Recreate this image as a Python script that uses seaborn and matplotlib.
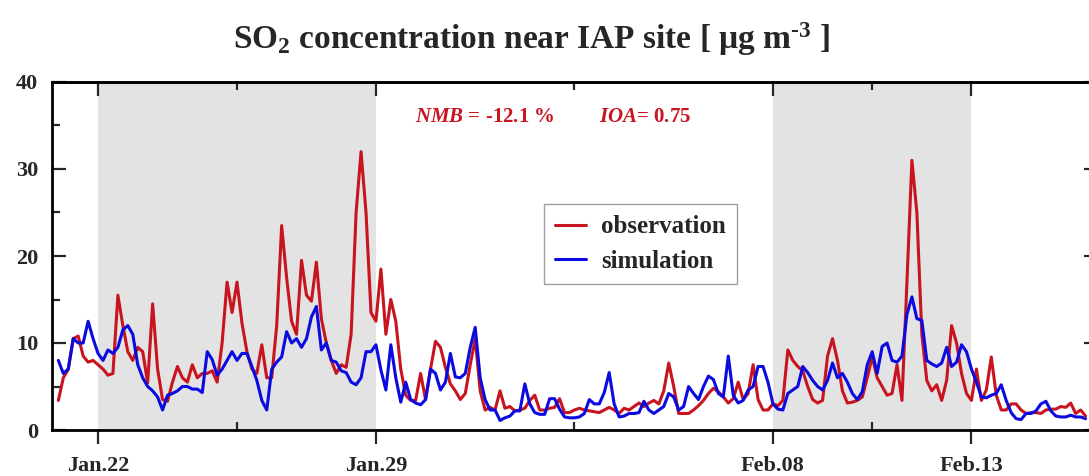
import matplotlib
matplotlib.use("Agg")
from matplotlib import pyplot as plt
import pandas as pd
import seaborn as sns

# 3-hourly SO2 values (00,03,06,09,12,15,18,21 h), one row per day, Jan.21 - Feb.15
observation = [
    3.4, 6.0, 7.0, 10.5, 10.8, 8.5, 7.8, 8.0,      # Jan21
    7.5, 7.0, 6.3, 6.5, 15.5, 12.0, 9.0, 8.0,      # Jan22
    9.5, 9.0, 5.4, 14.5, 7.0, 3.5, 3.3, 5.5,       # Jan23
    7.3, 6.0, 5.5, 7.5, 6.0, 6.5, 6.5, 6.8,        # Jan24
    5.5, 10.0, 17.0, 13.5, 17.0, 12.3, 9.0, 7.0,   # Jan25
    6.5, 9.8, 6.0, 6.0, 12.0, 23.5, 17.5, 12.5,    # Jan26
    11.0, 19.5, 15.5, 14.8, 19.3, 12.8, 10.0, 8.0, # Jan27
    6.5, 7.5, 7.2, 11.0, 25.0, 32.0, 25.0, 13.5,   # Jan28
    12.5, 18.5, 11.0, 15.0, 12.5, 7.0, 4.0, 3.4,   # Jan29
    3.4, 6.5, 3.5, 7.0, 10.2, 9.5, 7.2, 5.3,       # Jan30
    4.5, 3.5, 4.2, 7.5, 10.5, 4.5, 2.3, 2.6,       # Jan31
    2.3, 4.5, 2.5, 2.7, 2.2, 2.3, 2.5, 3.4,        # Feb01
    4.0, 2.3, 2.3, 2.5, 2.6, 3.6, 2.0, 2.0,        # Feb02
    2.3, 2.5, 2.3, 2.2, 2.1, 2.0, 2.3, 2.6,        # Feb03
    2.3, 1.9, 2.5, 2.3, 2.7, 3.1, 2.7, 3.1,        # Feb04
    3.4, 3.0, 4.5, 7.7, 5.0, 1.9, 1.9, 1.9,        # Feb05
    2.3, 2.8, 3.4, 4.2, 4.8, 4.4, 3.8, 3.1,        # Feb06
    3.6, 5.5, 3.5, 4.2, 7.5, 3.5, 2.3, 2.3,        # Feb07
    3.0, 2.8, 3.4, 9.2, 8.0, 7.3, 6.8, 5.0,        # Feb08
    3.5, 3.1, 3.4, 8.5, 10.5, 8.0, 4.5, 3.1,       # Feb09
    3.2, 3.4, 3.8, 6.0, 8.4, 6.0, 5.0, 4.0,        # Feb10
    4.2, 7.5, 3.4, 17.0, 31.0, 25.0, 11.0, 5.7,    # Feb11
    4.5, 5.2, 3.4, 5.7, 12.0, 10.0, 6.5, 4.2,      # Feb12
    3.4, 7.0, 3.4, 4.6, 8.4, 4.0, 2.3, 2.3,        # Feb13
    3.0, 3.0, 2.3, 1.9, 2.0, 2.0, 1.9, 2.3,        # Feb14
    2.4, 2.4, 2.7, 2.6, 3.1, 1.9, 2.3, 1.6,        # Feb15
]

simulation = [
    8.0, 6.5, 7.0, 10.5, 10.0, 10.0, 12.5, 10.5,   # Jan21
    8.8, 8.0, 9.2, 8.8, 9.5, 11.5, 12.0, 11.0,     # Jan22
    7.5, 6.0, 5.0, 4.5, 3.8, 2.3, 4.0, 4.2,        # Jan23
    4.5, 5.0, 5.0, 4.7, 4.7, 4.3, 9.0, 8.1,        # Jan24
    6.3, 7.0, 8.0, 9.0, 8.0, 8.8, 8.8, 7.3,        # Jan25
    5.7, 3.4, 2.3, 7.0, 7.8, 8.4, 11.3, 10.0,      # Jan26
    10.5, 9.5, 10.5, 13.0, 14.2, 9.2, 10.0, 8.0,   # Jan27
    7.8, 6.8, 6.6, 5.5, 5.2, 6.0, 9.0, 9.0,        # Jan28
    9.8, 6.9, 4.6, 9.8, 6.0, 3.2, 5.5, 3.5,        # Jan29
    3.1, 2.9, 3.5, 7.0, 6.5, 4.6, 5.5, 8.8,        # Jan30
    6.1, 6.0, 6.5, 9.5, 11.8, 6.0, 3.5, 2.3,       # Jan31
    2.3, 1.1, 1.4, 1.6, 2.2, 2.2, 5.3, 3.0,        # Feb01
    2.0, 1.8, 1.8, 3.6, 3.6, 2.4, 1.5, 1.4,        # Feb02
    1.4, 1.5, 1.9, 3.5, 3.0, 3.0, 4.3, 6.6,        # Feb03
    3.0, 1.5, 1.6, 1.9, 1.9, 2.0, 3.3, 2.3,        # Feb04
    1.9, 2.3, 2.7, 4.2, 3.8, 2.3, 2.7, 5.0,        # Feb05
    4.2, 3.5, 5.0, 6.2, 5.8, 4.2, 3.8, 8.5,        # Feb06
    4.0, 3.1, 3.4, 4.6, 5.0, 7.3, 7.3, 5.5,        # Feb07
    3.0, 2.4, 2.3, 4.2, 4.6, 5.0, 7.3, 6.6,        # Feb08
    5.7, 5.0, 4.6, 5.7, 7.7, 6.0, 6.5, 5.5,        # Feb09
    4.2, 3.5, 4.4, 7.5, 9.0, 6.5, 9.6, 10.0,       # Feb10
    8.0, 7.8, 8.5, 13.3, 15.3, 12.8, 12.6, 8.0,    # Feb11
    7.6, 7.3, 7.7, 9.5, 7.3, 7.8, 9.8, 9.0,        # Feb12
    7.0, 5.5, 3.8, 3.7, 4.0, 4.2, 5.2, 3.4,        # Feb13
    2.0, 1.3, 1.2, 1.9, 1.9, 2.2, 3.0, 3.3,        # Feb14
    2.2, 1.6, 1.5, 1.5, 1.7, 1.5, 1.5, 1.3,        # Feb15
]

start_time = "2014-01-21 00:00"
shaded = [("2014-01-22", "2014-01-29"), ("2014-02-08", "2014-02-13")]
major_dates = ["2014-01-22", "2014-01-29", "2014-02-08", "2014-02-13"]
major_labels = ["Jan.22", "Jan.29", "Feb.08", "Feb.13"]
minor_dates = ["2014-01-25 12:00", "2014-02-03 00:00", "2014-02-10 12:00"]

times = pd.date_range(start_time, periods=len(observation), freq="3h")
df = pd.DataFrame({"time": times, "observation": observation, "simulation": simulation})

sns.set_style("ticks")
plt.rcParams["font.family"] = ["Liberation Serif", "DejaVu Serif"]
plt.rcParams["font.weight"] = "bold"
plt.rcParams["mathtext.default"] = "regular"
plt.rcParams["mathtext.fontset"] = "custom"
plt.rcParams["mathtext.it"] = "Liberation Serif:italic:bold"
plt.rcParams["mathtext.rm"] = "Liberation Serif:bold"

red = "#c8141e"
blue = "#0a0ae1"

fig = plt.figure(figsize=(10.89, 4.76), dpi=100)
ax = fig.add_axes([52 / 1089, 1 - 430 / 476, 1046 / 1089, 348 / 476])

for a, b in shaded:
    ax.axvspan(pd.Timestamp(a), pd.Timestamp(b), color="#e3e3e3", lw=0, zorder=0)

sns.lineplot(data=df, x="time", y="observation", color=red, linewidth=2.2, label="observation", ax=ax)
sns.lineplot(data=df, x="time", y="simulation", color=blue, linewidth=2.2, label="simulation", ax=ax)

ax.set_xlim(pd.Timestamp("2014-01-20 20:10"), pd.Timestamp("2014-02-16 04:30"))
ax.set_ylim(0, 40)
ax.set_xlabel("")
ax.set_ylabel("")

ax.set_yticks([0, 10, 20, 30, 40])
ax.set_yticks([5, 15, 25, 35], minor=True)
ax.set_xticks([pd.Timestamp(d) for d in major_dates])
ax.set_xticklabels(major_labels)
ax.set_xticks([pd.Timestamp(d) for d in minor_dates], minor=True)

for s in ax.spines.values():
    s.set_linewidth(2)
    s.set_color("black")

ax.tick_params(axis="y", which="both", direction="in", right=True, width=1.6, labelsize=16, pad=10)
ax.tick_params(axis="y", which="major", length=10)
ax.tick_params(axis="y", which="minor", length=6)
ax.tick_params(axis="x", which="major", direction="out", length=10, width=1.6, labelsize=16, pad=9)
ax.tick_params(axis="x", which="minor", direction="in", length=6, width=1.6)

top = ax.secondary_xaxis("top")
top.set_xticks([pd.Timestamp(d) for d in major_dates])
top.set_xticks([pd.Timestamp(d) for d in minor_dates], minor=True)
top.tick_params(which="both", direction="in", labeltop=False, width=1.6)
top.tick_params(which="major", length=10)
top.tick_params(which="minor", length=6)
top.spines["top"].set_linewidth(2)

leg = ax.legend(loc="upper left", bbox_to_anchor=(0.470, 0.649), borderaxespad=0,
                frameon=True, fancybox=False, edgecolor="#a0a0a0", framealpha=1,
                prop={"size": 18, "weight": "bold"}, handlelength=1.25,
                handletextpad=0.6, labelspacing=0.45, borderpad=0.45)
leg.get_frame().set_linewidth(1.0)

ax.text(0.347, 0.899, r"$\mathit{NMB}$ = -12.1 %", transform=ax.transAxes,
        color=red, fontsize=15, fontweight="bold", va="center", ha="left")
ax.text(0.523, 0.899, r"$\mathit{IOA}$= 0.75", transform=ax.transAxes,
        color=red, fontsize=15, fontweight="bold", va="center", ha="left")

fig.text(531 / 1089, 1 - 49 / 476,
         "SO$_2$ concentration near IAP site [ μg m$^{\\text{-}3}$ ]",
         fontsize=24, fontweight="bold", ha="center", va="baseline")

fig.savefig("out.png", dpi=100)
